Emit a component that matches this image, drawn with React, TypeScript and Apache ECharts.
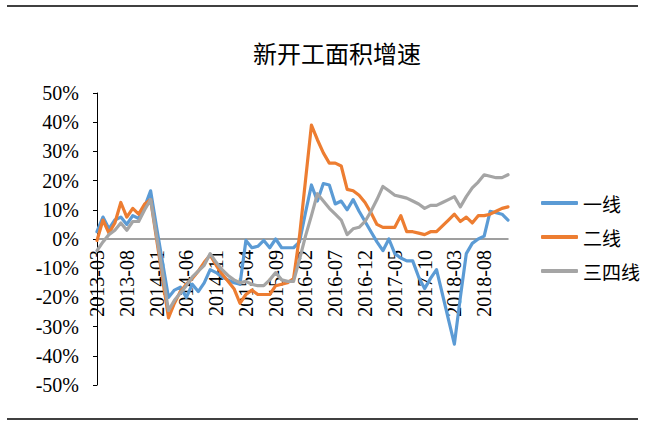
import React, { useEffect, useRef } from "react";
import * as echarts from "echarts";

const months = [
  "2013-03","2013-04","2013-05","2013-06","2013-07","2013-08","2013-09","2013-10","2013-11","2013-12",
  "2014-01","2014-02","2014-03","2014-04","2014-05","2014-06","2014-07","2014-08","2014-09","2014-10",
  "2014-11","2014-12","2015-01","2015-02","2015-03","2015-04","2015-05","2015-06","2015-07","2015-08",
  "2015-09","2015-10","2015-11","2015-12","2016-01","2016-02","2016-03","2016-04","2016-05","2016-06",
  "2016-07","2016-08","2016-09","2016-10","2016-11","2016-12","2017-01","2017-02","2017-03","2017-04",
  "2017-05","2017-06","2017-07","2017-08","2017-09","2017-10","2017-11","2017-12","2018-01","2018-02",
  "2018-03","2018-04","2018-05","2018-06","2018-07","2018-08","2018-09","2018-10","2018-11","2018-12",
];

const seriesNames = ["一线", "二线", "三四线"];

const tier1 = [
  2.5, 7.5, 3.5, 6.5, 7.5, 5, 8, 7, 11, 16.5,
  4, -8, -20, -17.5, -16.5, -20, -15.5, -18, -15, -10.5,
  -11.5, -13, -14, -15, -15.5, -0.5, -3, -2.5, -0.5, -3,
  0, -3, -3, -3, -1, 9, 18.5, 13, 19, 18.5,
  12, 13, 10, 13.5, 9.5, 6, 2.5, -1, -4, 0,
  -5, -6.5, -7.5, -7.5, -13, -17, -13.5, -10.5, -19, -27.5,
  -36, -20, -5, -1.5, 0, 1, 9.5, 9, 8.5, 6.5,
];

const tier2 = [
  -0.5, 6.5, 2, 5.5, 12.5, 7.5, 10.5, 8.5, 12, 13.5,
  0, -13.5, -27, -22, -18, -15.5, -13.5, -11, -8, -5.5,
  -9, -12, -14.5, -17, -22, -19, -17.5, -19, -19, -19,
  -16, -15.5, -15, -13.5, 1, 20, 39, 34, 29.5, 26,
  26, 25, 17, 16.5, 15, 12.5, 9, 5, 4, 4,
  4, 8, 2.5, 2.5, 2, 1.5, 2.5, 2.5, 4.5, 6.5,
  8.5, 6, 7.5, 5.5, 8, 8, 8.5, 9.5, 10.5, 11,
];

const tier34 = [
  -4, -1, 1.5, 3, 5.5, 3, 6, 6, 10, 13.5,
  1, -11.5, -24.5, -21, -18.5, -16, -13, -11, -9, -5,
  -8, -10.5, -12.5, -14, -15, -14.5, -15.5, -16, -16, -14,
  -11.5, -14, -14.5, -14.5, -7, 1, 8, 15.5, 13, 10.5,
  8.5, 6.5, 1.5, 3.5, 4, 6, 9.5, 13.5, 18, 16.5,
  15, 14.5, 14, 13, 12, 10.5, 11.5, 11.5, 12.5, 13.5,
  14.5, 11, 14.5, 17.5, 19.5, 22, 21.5, 21, 21, 22,
];

const colors = ["#5B9BD5", "#ED7D31", "#A5A5A5"];
const title = "新开工面积增速";

export default function App() {
  const ref = useRef<HTMLDivElement>(null);
  useEffect(() => {
    if (!ref.current) return;
    const chart = echarts.init(ref.current, null, { renderer: "svg" });
    const serif = "'Liberation Serif', 'Times New Roman', serif";
    const cjk = "'Noto Sans CJK SC', sans-serif";
    const datas = [tier1, tier2, tier34];
    chart.setOption({
      animation: false,
      backgroundColor: "#fff",
      color: colors,
      grid: {
        left: 97,
        top: 93,
        width: 411,
        height: 292,
        containLabel: false,
        outerBoundsMode: "none",
      },
      legend: {
        orient: "vertical",
        left: 536,
        top: 188,
        icon: "roundRect",
        itemWidth: 37,
        itemHeight: 4,
        itemGap: 14,
        data: seriesNames,
        textStyle: { fontFamily: cjk, fontSize: 19, lineHeight: 20, color: "#000" },
      },
      xAxis: {
        type: "category",
        data: months,
        boundaryGap: false,
        position: "bottom",
        offset: -146,
        axisLine: { onZero: false, lineStyle: { color: "#808080", width: 1.5 } },
        axisTick: { show: false },
        axisLabel: {
          interval: 4,
          rotate: 90,
          margin: 11,
          fontFamily: serif,
          fontSize: 20,
          color: "#000",
        },
        splitLine: { show: false },
      },
      yAxis: {
        type: "value",
        min: -50,
        max: 50,
        interval: 10,
        axisLine: { show: true, lineStyle: { color: "#000", width: 1 } },
        axisTick: { show: true, inside: false, length: 4, lineStyle: { color: "#000" } },
        axisLabel: {
          formatter: (v: number) => `${v}%`,
          fontFamily: serif,
          fontSize: 20,
          color: "#000",
          margin: 18,
        },
        splitLine: { show: false },
      },
      series: seriesNames.map((name, k) => ({
        name,
        type: "line",
        data: datas[k],
        showSymbol: false,
        symbol: "none",
        lineStyle: { width: 3.2, color: colors[k], cap: "round", join: "round" },
        itemStyle: { color: colors[k] },
        z: 2 + k,
      })),
      graphic: [
        {
          type: "text",
          x: 337,
          y: 52,
          style: {
            text: title,
            font: `24px ${cjk}`,
            fill: "#000",
            textAlign: "center",
            textVerticalAlign: "middle",
          },
        },
        { type: "line", shape: { x1: 7, y1: 6, x2: 638, y2: 6 }, style: { stroke: "#000", lineWidth: 1.5 } },
        { type: "line", shape: { x1: 7, y1: 419, x2: 638, y2: 419 }, style: { stroke: "#000", lineWidth: 1.5 } },
      ],
    });
    return () => chart.dispose();
  }, []);
  return (
    <div
      ref={ref}
      style={{ position: "absolute", left: 0, top: 0, width: 645, height: 428 }}
    />
  );
}
